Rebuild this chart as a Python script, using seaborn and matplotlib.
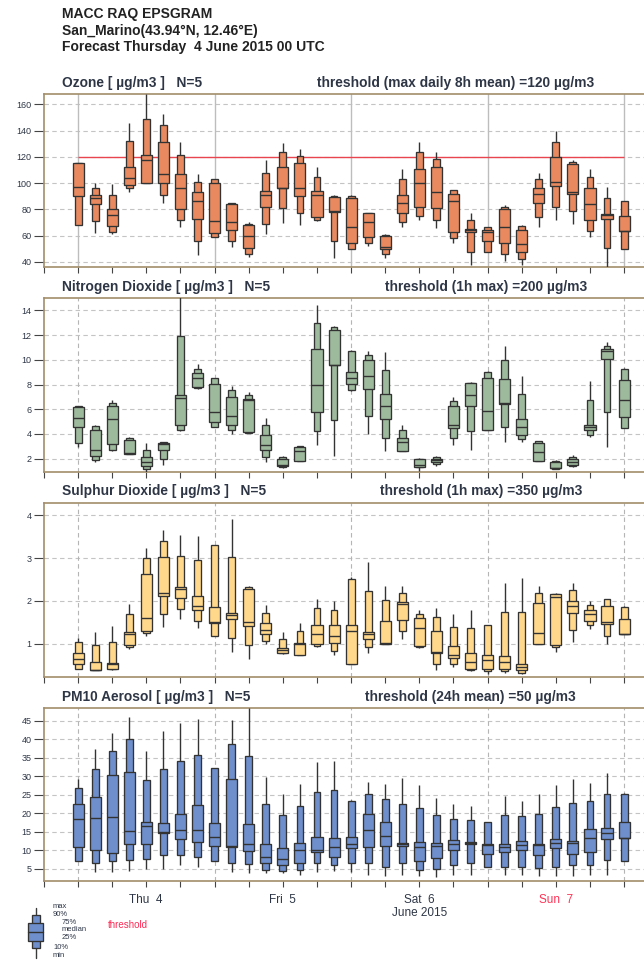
import matplotlib
matplotlib.use("Agg")
import matplotlib.pyplot as plt
from matplotlib.patches import Rectangle
import numpy as np
import pandas as pd
import seaborn as sns

# ---------------- data (forecast hour from 4 June 2015 00 UTC) ----------------
hours = list(range(0, 97, 3))

o3_min = [68, 62, 61, 93, 100, 84.5, 66.7, 45, 59, 51.4, 43.8, 61, 69.7, 68, 71, 42.5, 50, 52, 42.5, 66.7, 71.8, 65.4, 54, 37.5, 47.6, 40.5, 37.5, 66.7, 71.8, 68.7, 58.6, 36, 50]
o3_p10 = [68, 71, 63, 96, 100, 91, 72, 56, 59, 56, 46.3, 69, 80.7, 77, 71.8, 56, 50, 54, 46, 70.5, 75, 71.8, 58, 47.6, 47.6, 46.3, 42, 74.3, 82, 78.6, 63.6, 50.7, 50]
o3_p25 = [90, 84, 67, 98.5, 100, 100, 80, 73, 62, 64, 50.7, 81.4, 96, 90, 73.8, 78, 54.5, 58.6, 50, 77.4, 81.4, 80.7, 63, 62.5, 56, 54.5, 47.6, 85, 97.7, 92, 71.8, 73, 63.4]
o3_med = [97, 89, 76, 104, 117.5, 107, 96.4, 86, 71, 70, 60, 91.3, 96.5, 96.4, 91.3, 79, 66.7, 70, 51.4, 84.5, 100, 93.4, 86.5, 64, 63, 66.7, 53.2, 92, 100.5, 93.4, 84, 75.6, 63.6]
o3_p75 = [115, 91, 80, 112, 121.5, 131, 106.6, 93, 100, 84, 68, 94, 112, 115.5, 94, 89.6, 88.3, 76.9, 59.6, 90.8, 111, 112, 92, 65, 64.6, 80, 64.6, 96.4, 119.6, 114.5, 96.4, 76.4, 74.8]
o3_p90 = [115, 96, 91, 132, 149, 144, 121.5, 100.5, 102.8, 84.5, 69, 108, 123.6, 120.6, 105, 90.3, 90, 76.9, 60.3, 103, 123.4, 118.3, 94.7, 71.8, 66.7, 81.4, 67.4, 103.3, 131.5, 116.3, 104.8, 89, 86.5]
o3_max = [115, 100, 99, 145.5, 168, 153, 131.5, 106.6, 102.8, 85, 70.5, 117.5, 130.8, 125.7, 112, 90.8, 90.8, 76.9, 61, 110.4, 131.5, 123.6, 95, 77.4, 66.7, 83.2, 68, 108, 139.7, 117.5, 111, 97.2, 86.5]

no2_min = [2.95, 1.7, 2.6, 2.35, 0.84, 1.5, 4.2, 7.64, 4.6, 4.02, 4.08, 1.73, 1.24, 1.84, 3.13, 2.19, 7.45, 4.02, 2.65, 2.6, 1.0, 1.38, 3.13, 2.73, 4.3, 3.35, 3.35, 1.84, 1.19, 1.3, 3.75, 2.92, 4.48]
no2_p10 = [3.3, 1.86, 2.73, 2.38, 1.16, 2.0, 4.35, 7.72, 4.6, 4.35, 4.1, 2.1, 1.32, 1.84, 4.26, 5.1, 7.53, 5.42, 3.67, 2.6, 1.3, 1.6, 3.67, 4.2, 4.35, 4.6, 3.59, 1.84, 1.19, 1.38, 3.89, 5.75, 4.48]
no2_p25 = [4.6, 2.24, 3.2, 2.4, 1.38, 2.73, 4.7, 7.8, 4.97, 4.7, 4.13, 2.73, 1.38, 1.84, 5.75, 9.55, 8.07, 7.64, 5.2, 2.6, 1.35, 1.7, 4.48, 6.29, 4.35, 6.45, 3.89, 1.84, 1.24, 1.51, 4.3, 10.06, 5.37]
no2_med = [5.3, 2.7, 5.24, 2.45, 1.7, 3.2, 6.9, 8.52, 5.75, 5.48, 6.77, 3.13, 1.5, 2.59, 8.0, 9.6, 8.5, 8.66, 6.23, 3.35, 1.45, 1.86, 4.7, 7.18, 5.83, 6.5, 4.6, 2.51, 1.26, 1.73, 4.56, 10.68, 6.77]
no2_p75 = [6.15, 4.3, 6.23, 3.54, 2.1, 3.27, 7.18, 8.93, 8.07, 6.96, 6.85, 3.89, 2.0, 2.94, 10.87, 12.44, 8.98, 9.95, 7.23, 3.67, 1.95, 1.97, 6.23, 8.12, 8.52, 8.44, 5.2, 3.27, 1.7, 1.97, 4.75, 10.87, 8.39]
no2_p90 = [6.3, 4.67, 6.5, 3.67, 2.73, 3.32, 11.9, 9.25, 8.52, 7.53, 7.18, 4.75, 2.13, 3.0, 12.98, 12.65, 10.74, 10.36, 9.2, 4.35, 2.0, 2.1, 6.64, 8.12, 9.0, 10.0, 7.23, 3.4, 1.78, 2.1, 6.77, 11.14, 9.25]
no2_max = [6.3, 4.75, 6.77, 3.73, 3.27, 3.32, 15.2, 9.66, 8.52, 7.85, 7.37, 5.29, 2.19, 3.0, 14.4, 12.7, 10.82, 10.68, 10.6, 4.75, 2.05, 2.19, 6.99, 8.2, 9.06, 11.14, 8.66, 3.46, 1.86, 2.27, 8.31, 11.44, 9.33]

so2_min = [0.4, 0.38, 0.38, 0.87, 1.19, 1.4, 1.58, 1.37, 1.17, 0.8, 0.65, 1.0, 0.75, 0.73, 0.92, 0.73, 0.53, 0.78, 1.0, 1.12, 0.9, 0.39, 0.45, 0.35, 0.3, 0.31, 0.3, 1.0, 0.8, 1.04, 1.35, 1.0, 1.23]
so2_p10 = [0.4, 0.38, 0.4, 0.92, 1.25, 1.7, 1.8, 1.54, 1.19, 1.13, 0.98, 1.06, 0.77, 0.73, 0.94, 0.82, 0.53, 0.92, 1.0, 1.29, 0.92, 0.53, 0.53, 0.38, 0.35, 0.35, 0.31, 1.0, 0.92, 1.31, 1.43, 1.19, 1.23]
so2_p25 = [0.53, 0.38, 0.41, 0.98, 1.29, 2.11, 2.07, 1.78, 1.48, 1.58, 1.41, 1.22, 0.79, 0.73, 1.0, 1.02, 0.53, 1.1, 1.0, 1.56, 0.94, 0.79, 0.67, 0.41, 0.41, 0.41, 0.38, 1.0, 0.98, 1.72, 1.53, 1.47, 1.23]
so2_med = [0.63, 0.39, 0.52, 1.22, 1.6, 2.18, 2.29, 1.88, 1.5, 1.66, 1.5, 1.33, 0.84, 1.0, 1.22, 1.17, 1.3, 1.22, 1.01, 1.93, 1.37, 0.8, 0.73, 0.57, 0.61, 0.57, 0.45, 1.25, 2.08, 1.87, 1.7, 1.5, 1.23]
so2_p75 = [0.77, 0.57, 0.55, 1.27, 2.62, 3.03, 2.32, 2.11, 1.86, 1.72, 2.29, 1.48, 0.9, 1.02, 1.43, 1.43, 1.43, 1.27, 1.53, 1.97, 1.6, 1.3, 0.94, 0.78, 0.74, 0.7, 0.52, 1.95, 2.15, 2.0, 1.78, 1.88, 1.57]
so2_p90 = [1.05, 0.98, 1.05, 1.7, 3.0, 3.4, 3.05, 2.95, 3.3, 3.03, 2.32, 1.72, 1.1, 1.29, 1.83, 1.78, 2.52, 2.22, 2.01, 2.19, 1.69, 1.62, 1.4, 1.37, 1.43, 1.74, 1.74, 2.19, 2.17, 2.25, 1.9, 2.04, 1.86]
so2_max = [1.13, 1.27, 1.41, 1.93, 3.24, 3.65, 3.55, 3.52, 3.3, 3.92, 2.34, 1.9, 1.27, 1.49, 2.04, 2.0, 2.55, 2.9, 2.36, 2.36, 1.78, 1.84, 1.7, 1.78, 1.44, 2.42, 2.54, 2.36, 2.19, 2.42, 1.99, 2.05, 1.87]

pm_min = [7.1, 4.1, 4.1, 4.5, 5.0, 5.0, 5.9, 5.6, 7.1, 4.1, 3.8, 3.8, 3.8, 3.4, 4.2, 4.5, 4.0, 3.4, 3.0, 3.4, 3.1, 2.7, 3.4, 3.4, 5.6, 3.4, 3.4, 3.0, 3.0, 3.0, 3.4, 3.4, 7.1]
pm_p10 = [7.1, 6.5, 7.1, 7.4, 7.7, 8.7, 8.7, 8.3, 7.1, 6.5, 6.2, 4.7, 4.5, 4.7, 6.5, 6.1, 6.5, 6.7, 5.6, 6.5, 4.6, 5.0, 5.9, 6.7, 5.6, 5.6, 5.4, 5.2, 5.4, 6.1, 5.9, 7.4, 7.1]
pm_p25 = [10.8, 10.2, 9.4, 11.7, 11.7, 14.7, 13.0, 12.3, 11.1, 11.0, 9.9, 6.5, 5.9, 6.5, 9.6, 8.3, 10.5, 10.8, 11.1, 11.1, 7.0, 8.0, 10.2, 11.8, 9.0, 9.6, 10.1, 8.7, 10.5, 9.0, 9.6, 13.0, 13.2]
pm_med = [18.5, 18.8, 19.1, 15.1, 16.7, 15.0, 15.4, 15.4, 13.6, 11.1, 11.7, 8.1, 7.7, 10.2, 10.0, 11.0, 11.8, 15.4, 14.0, 11.7, 11.0, 11.1, 11.8, 12.0, 11.4, 11.0, 11.4, 11.4, 12.0, 12.1, 13.4, 14.7, 13.4]
pm_p75 = [22.5, 24.3, 30.5, 31.2, 17.6, 17.4, 19.8, 22.2, 17.4, 29.2, 17.0, 11.6, 10.5, 12.1, 13.6, 13.4, 13.6, 19.7, 17.6, 12.0, 12.3, 12.1, 12.9, 12.2, 11.6, 11.7, 12.6, 11.8, 13.0, 12.6, 15.7, 16.1, 17.6]
pm_p90 = [26.8, 32.1, 37.0, 40.1, 29.0, 32.1, 34.2, 35.8, 32.3, 38.7, 35.6, 22.5, 19.6, 21.9, 25.9, 26.2, 23.4, 25.2, 24.0, 22.5, 21.4, 19.6, 18.5, 18.1, 17.6, 19.6, 19.2, 19.8, 21.6, 22.8, 23.4, 25.2, 25.2]
pm_max = [29.4, 37.4, 41.8, 46.1, 37.0, 42.3, 44.5, 45.4, 32.3, 45.2, 48.5, 29.8, 25.2, 28.0, 33.9, 34.1, 23.6, 28.6, 28.0, 29.6, 27.6, 24.1, 22.5, 21.9, 17.6, 24.7, 23.4, 25.2, 27.6, 29.2, 28.3, 31.0, 25.4]

day_hours = [0, 24, 48, 72, 96]
day_labels = ["Thu  4", "Fri  5", "Sat  6", "Sun  7"]
day_label_hours = [12, 36, 60, 84]
month_label = "June 2015"

titles = ["Ozone [ µg/m3 ]   N=5", "Nitrogen Dioxide [ µg/m3 ]   N=5",
          "Sulphur Dioxide [ µg/m3 ]   N=5", "PM10 Aerosol [ µg/m3 ]   N=5"]
thresholds = ["threshold (max daily 8h mean) =120 µg/m3", "threshold (1h max) =200 µg/m3",
              "threshold (1h max) =350 µg/m3", "threshold (24h mean) =50 µg/m3"]
o3_threshold = 120

header = ["MACC RAQ EPSGRAM", "San_Marino(43.94°N, 12.46°E)",
          "Forecast Thursday  4 June 2015 00 UTC"]

# ---------------- style ----------------
sns.set_theme(style="white")
plt.rcParams['font.family'] = ['Liberation Sans', 'DejaVu Sans']

W, H = 644, 961
fig = plt.figure(figsize=(W / 100, H / 100), dpi=100)

EDGE = "#333333"
FRAME = "#A38E6B"
TXT = "#2E3646"
GRID = "#C4C4C4"

panel_specs = [
    dict(top=94, bottom=267, ylim=(36, 168), yticks=np.arange(40, 161, 20), color="#E8895F",
         data=(o3_min, o3_p10, o3_p25, o3_med, o3_p75, o3_p90, o3_max), solid=True, thr_x=317),
    dict(top=298, bottom=472, ylim=(0.92, 15.0), yticks=np.arange(2, 15, 2), color="#9EBA9C",
         data=(no2_min, no2_p10, no2_p25, no2_med, no2_p75, no2_p90, no2_max), solid=False, thr_x=385),
    dict(top=503, bottom=677, ylim=(0.22, 4.29), yticks=np.arange(1, 5, 1), color="#FFD88C",
         data=(so2_min, so2_p10, so2_p25, so2_med, so2_p75, so2_p90, so2_max), solid=False, thr_x=380),
    dict(top=708, bottom=881, ylim=(1.7, 48.5), yticks=np.arange(5, 46, 5), color="#6E8ECC",
         data=(pm_min, pm_p10, pm_p25, pm_med, pm_p75, pm_p90, pm_max), solid=False, thr_x=365),
]

WIDE = 1.95
NARROW = 1.2
LW = 0.95

overlay = fig.add_axes([0, 0, 1, 1], zorder=10)
overlay.set_xlim(0, W)
overlay.set_ylim(H, 0)
overlay.axis("off")
overlay.patch.set_alpha(0)

for i, spec in enumerate(panel_specs):
    top, bottom = spec["top"], spec["bottom"]
    ax = fig.add_axes([44 / W, 1 - bottom / H, 600 / W, (bottom - top) / H])
    mn, p10, p25, med, p75, p90, mx = spec["data"]
    df = pd.DataFrame(dict(hour=hours, vmin=mn, p10=p10, p25=p25, med=med,
                           p75=p75, p90=p90, vmax=mx))

    ax.set_xlim(-6, 99.5)
    ax.set_ylim(*spec["ylim"])

    # grid
    for y in spec["yticks"]:
        ax.axhline(y, color=GRID, lw=0.8, ls=(0, (4, 3)), zorder=1)
    for d in day_hours:
        if spec["solid"]:
            ax.axvline(d, color="#BDBDBD", lw=1.0, zorder=1)
        else:
            ax.axvline(d, color="#B5B5B5", lw=0.8, ls=(0, (4, 3)), zorder=1)

    if i == 0:
        ax.hlines(o3_threshold, day_hours[0], day_hours[-1], color="#E8454F", lw=1.0, zorder=2)

    # boxes
    ax.vlines(df["hour"], df["vmin"], df["vmax"], color="#333333", lw=1.0, zorder=3)
    ax.bar(df["hour"], df["p90"] - df["p10"], bottom=df["p10"], width=NARROW,
           color=spec["color"], edgecolor=EDGE, linewidth=LW, zorder=4)
    ax.bar(df["hour"], df["p75"] - df["p25"], bottom=df["p25"], width=WIDE,
           color=spec["color"], edgecolor=EDGE, linewidth=LW, zorder=5)
    ax.hlines(df["med"], df["hour"] - WIDE / 2, df["hour"] + WIDE / 2,
              color=EDGE, lw=1.0, zorder=6)

    # axes styling
    ax.set_yticks(spec["yticks"])
    ax.set_yticklabels([str(int(v)) for v in spec["yticks"]])
    ax.set_xticks(np.arange(-6, 97, 6))
    ax.set_xticklabels([])
    ax.tick_params(axis="y", left=True, direction="out", length=7, width=0.8,
                   color="#444444", pad=2, labelsize=6.5, labelcolor=TXT)
    ax.tick_params(axis="x", bottom=True, direction="out", length=4, width=0.8,
                   color="#444444", labelbottom=False)
    for side in ["left", "bottom", "top"]:
        ax.spines[side].set_visible(True)
        ax.spines[side].set_color(FRAME)
        ax.spines[side].set_linewidth(1.2)
    ax.spines["right"].set_visible(False)
    ax.set_facecolor("white")

    # panel titles
    overlay.text(62, top - 7.5, titles[i], fontsize=9.9, fontweight="bold", color=TXT,
                 va="baseline", ha="left")
    overlay.text(spec["thr_x"], top - 7.5, thresholds[i], fontsize=9.9, fontweight="bold",
                 color=TXT, va="baseline", ha="left")

# header
for k, (line, yb) in enumerate(zip(header, [18, 34.5, 51])):
    overlay.text(62, yb, line, fontsize=10, fontweight="bold", color="#222222",
                 va="baseline", ha="left")

# day labels
px_per_h = 136.5 / 24
for lab, hh in zip(day_labels, day_label_hours):
    x = 78 + hh * px_per_h
    col = "#FF3355" if lab.startswith("Sun") else TXT
    overlay.text(x, 903, lab, fontsize=8.5, color=col, ha="center", va="baseline")
overlay.text(78 + 60 * px_per_h, 916, month_label, fontsize=8.5, color=TXT,
             ha="center", va="baseline")

# legend glyph
lc = "#6E8ECC"
overlay.plot([35.8, 35.8], [907.7, 957.7], color="#3A3A3A", lw=1.0, zorder=1)
overlay.add_patch(Rectangle((31.8, 915), 8, 33, facecolor=lc, edgecolor=EDGE, lw=LW, zorder=2))
overlay.add_patch(Rectangle((28.3, 922.7), 15, 18.3, facecolor=lc, edgecolor=EDGE, lw=LW, zorder=3))
overlay.plot([28.3, 43.3], [931.7, 931.7], color=EDGE, lw=1.0, zorder=4)
leg_items = [("max", 53, 908), ("90%", 53, 915.5), ("75%", 62, 923.5), ("median", 62, 931),
             ("25%", 62, 939), ("10%", 53, 949), ("min", 53, 957)]
for txt, x, y in leg_items:
    overlay.text(x, y, txt, fontsize=5.5, color=TXT, ha="left", va="baseline")
overlay.text(108, 928, "threshold", fontsize=7, color="#FF2A55", ha="left", va="baseline")

fig.savefig("out.png", dpi=100, facecolor="white")
